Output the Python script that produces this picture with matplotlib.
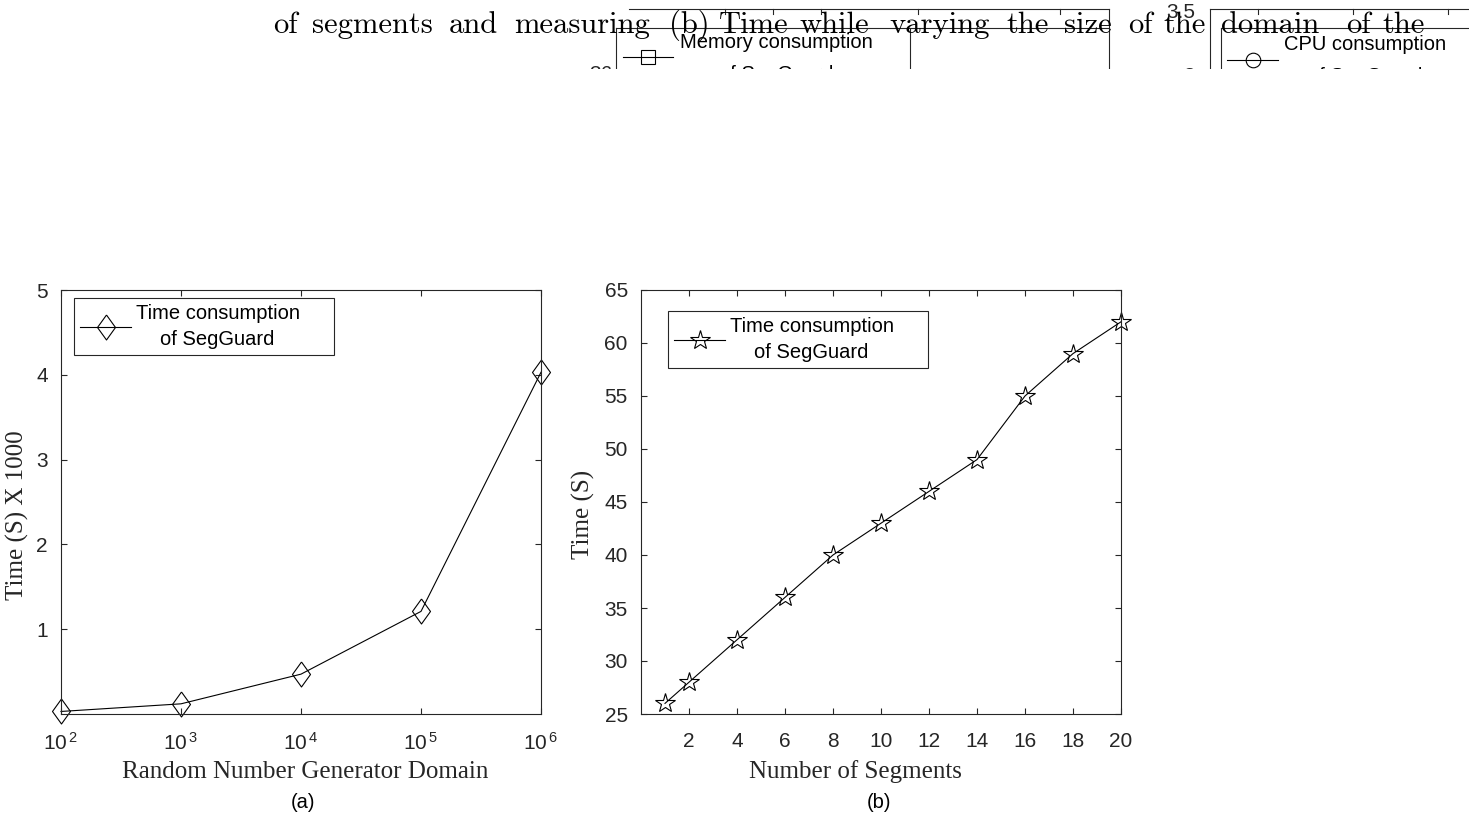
import matplotlib
matplotlib.use("Agg")
import matplotlib.pyplot as plt
from matplotlib.ticker import NullLocator, FixedLocator, FixedFormatter
from matplotlib.lines import Line2D

# ---------------- data ----------------
domain_x = [1e2, 1e3, 1e4, 1e5, 1e6]
domain_time = [0.03, 0.12, 0.47, 1.21, 4.03]          # Time (S) x 1000
domain_ticklabels = [r'$10^{\,2}$', r'$10^{\,3}$', r'$10^{\,4}$', r'$10^{\,5}$', r'$10^{\,6}$']
a_yticks = [1, 2, 3, 4, 5]

segments = [1, 2, 4, 6, 8, 10, 12, 14, 16, 18, 20]
seg_time = [26, 28, 32, 36, 40, 43, 46, 49, 55, 59, 62]
b_xticks = [2, 4, 6, 8, 10, 12, 14, 16, 18, 20]
b_yticks = [25, 30, 35, 40, 45, 50, 55, 60, 65]

legend_label = "Time consumption\nof SegGuard"
caption_words = ["of", "segments", "and", "measuring", "(b)", "Time", "while",
                 "varying", "the", "size", "of", "the", "domain", "of", "the"]
caption_x = [273, 312, 449, 514, 669, 719, 800, 889, 1006, 1064, 1128, 1163,
             1221, 1346, 1382]

# ---------------- style ----------------
W, H = 1469, 816
AXC = '#262626'
SANS = 'Liberation Sans'
SERIF = 'Liberation Serif'
plt.rcParams['font.family'] = [SANS, 'DejaVu Sans']
plt.rcParams['mathtext.default'] = 'regular'
TICK_FS = 15
LEG_FS = 14.5
LAB_FS = 18

fig = plt.figure(figsize=(W / 100, H / 100), dpi=100)


def px_axes(x0, y0, x1, y1):
    return fig.add_axes([x0 / W, 1 - y1 / H, (x1 - x0) / W, (y1 - y0) / H])


def style_axes(ax):
    for s in ax.spines.values():
        s.set_color(AXC)
        s.set_linewidth(0.8)
    ax.tick_params(direction='in', length=4.5, width=0.8, color=AXC,
                   labelcolor=AXC, labelsize=TICK_FS, top=True, right=True)
    ax.tick_params(axis='x', pad=13)
    ax.tick_params(axis='y', pad=9.5)


def make_legend(ax, handle, anchor):
    pad = "     "
    lab = (pad + "\n").join(legend_label.split("\n")) + pad
    leg = ax.legend([handle], [lab], loc='upper left', bbox_to_anchor=anchor,
                    bbox_transform=ax.transAxes, borderaxespad=0,
                    fancybox=False, edgecolor=AXC, framealpha=1,
                    fontsize=LEG_FS, handlelength=2.54, handletextpad=0.22,
                    borderpad=0.3, numpoints=1)
    leg.get_frame().set_linewidth(0.8)
    for t in leg.get_texts():
        t.set_multialignment('center')
        t.set_linespacing(1.45)
        t.set_color('black')
    return leg


# ---------------- panel (a) ----------------
axa = px_axes(61, 290, 541, 714)
diamond = [(0, 1), (0.72, 0), (0, -1), (-0.72, 0), (0, 1)]
la, = axa.plot(domain_x, domain_time, color='black', lw=0.8, marker=diamond,
               ms=18, mfc='none', mec='black', mew=0.8, clip_on=False)
axa.set_xscale('log')
axa.set_xlim(1e2, 1e6)
axa.set_ylim(0.0, 5)
axa.xaxis.set_major_locator(FixedLocator(domain_x))
axa.xaxis.set_major_formatter(FixedFormatter(domain_ticklabels))
axa.xaxis.set_minor_locator(NullLocator())
axa.set_yticks(a_yticks)
style_axes(axa)
make_legend(axa, la, ((74 - 61) / 480, (714 - 298) / 424))

# ---------------- panel (b) ----------------
axb = px_axes(641, 290, 1121, 714)
lb, = axb.plot(segments, seg_time, color='black', lw=0.8, marker='*', ms=15,
               mfc='none', mec='black', mew=0.8, clip_on=False)
axb.set_xlim(0, 20)
axb.set_ylim(25, 65)
axb.set_xticks(b_xticks)
axb.set_yticks(b_yticks)
style_axes(axb)
make_legend(axb, lb, ((668 - 641) / 480, (714 - 311) / 424))

# ---------------- labels ----------------
def ftext(x, y, s, **kw):
    fig.text(x / W, 1 - y / H, s, **kw)

ftext(305, 772, "Random Number Generator Domain", ha='center', va='center',
      family=SERIF, fontsize=LAB_FS, color=AXC)
ftext(855, 772, "Number of Segments", ha='center', va='center',
      family=SERIF, fontsize=LAB_FS, color=AXC)
ftext(17, 515, "Time (S) X 1000", ha='center', va='center', rotation=90,
      family=SERIF, fontsize=LAB_FS, color=AXC)
ftext(583, 514, "Time (S)", ha='center', va='center', rotation=90,
      family=SERIF, fontsize=LAB_FS, color=AXC)
ftext(303, 802, "(a)", ha='center', va='center', fontsize=LEG_FS, color='black')
ftext(879, 803, "(b)", ha='center', va='center', fontsize=LEG_FS, color='black')

# ---------------- clipped strip of neighbouring content at the top ----------------
STRIP = 69
top = px_axes(0, 0, W, STRIP)
top.set_xlim(0, W)
top.set_ylim(STRIP, 0)
top.axis('off')

for w, x in zip(caption_words, caption_x):
    top.text(x, 33, w, family='cmr10', fontsize=22, ha='left',
             va='baseline', color='black', clip_on=True)

def seg(x0, y0, x1, y1):
    top.add_line(Line2D([x0, x1], [y0, y1], color=AXC, lw=0.8))

Y_UP, Y_LO = 9, 28
# neighbouring memory chart
seg(629, Y_UP, 1109, Y_UP)
seg(1109, Y_UP, 1109, STRIP + 5)
seg(616, Y_LO, 1109, Y_LO)
seg(616, Y_LO, 616, STRIP + 5)
seg(910, Y_LO, 910, STRIP + 5)
for tx in [725, 773, 821, 918, 1060]:
    seg(tx, Y_UP, tx, Y_UP + 5)
top.add_line(Line2D([623, 673], [57, 57], color='black', lw=0.8))
top.plot([648], [57], marker='s', ms=9.5, mfc='none', mec='black', mew=0.8)
top.text(776, 43, "Memory consumption", ha='center', va='center',
         fontsize=LEG_FS, color='black', clip_on=True)
top.text(776, 75, "of SegGuard", ha='center', va='center',
         fontsize=LEG_FS, color='black', clip_on=True)
top.text(613, 75, "36", ha='right', va='center', fontsize=TICK_FS,
         color=AXC, clip_on=True)

# neighbouring CPU chart
seg(1210, Y_UP, W + 5, Y_UP)
seg(1210, Y_UP, 1210, STRIP + 5)
seg(1221, Y_LO, W + 5, Y_LO)
seg(1221, Y_LO, 1221, STRIP + 5)
for tx in [1258, 1353, 1448]:
    seg(tx, Y_UP, tx, Y_UP + 5)
top.add_line(Line2D([1227, 1278], [60, 60], color='black', lw=0.8))
top.plot([1253], [60], marker='o', ms=10.5, mfc='none', mec='black', mew=0.8)
top.text(1365, 45, "CPU consumption", ha='center', va='center',
         fontsize=LEG_FS, color='black', clip_on=True)
top.text(1365, 77, "of SegGuard", ha='center', va='center',
         fontsize=LEG_FS, color='black', clip_on=True)
top.text(1195, 12, "3.5", ha='right', va='center', fontsize=TICK_FS,
         color=AXC, clip_on=True)
top.text(1195, 76, "3", ha='right', va='center', fontsize=TICK_FS,
         color=AXC, clip_on=True)

fig.savefig("out.png", dpi=100)
